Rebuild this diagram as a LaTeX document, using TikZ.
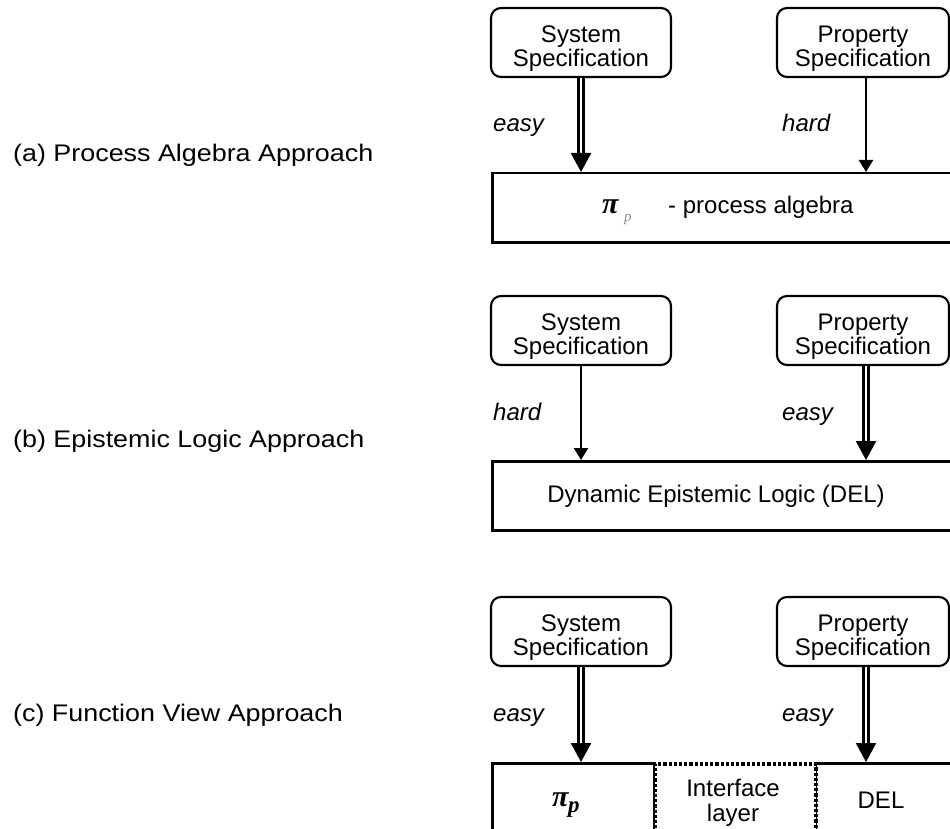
\documentclass[tikz,border=0pt]{standalone}
\usepackage{fontspec}
\setmainfont{Liberation Sans}
\newfontfamily\pifont{Liberation Serif}
\usetikzlibrary{arrows.meta}
\newcommand{\hx}[1]{\scalebox{1.0}[1]{#1}}
\newcommand{\hl}[1]{\scalebox{1.12}[1]{#1}}
\newcommand{\pisym}{{\pifont\itshape\bfseries π}}
\newcommand{\spectext}[2]{\raisebox{-7pt}[\height][\depth]{\begin{tabular}{@{}c@{}}\hx{#1}\\[-2pt]\hx{#2}\end{tabular}}}
\begin{document}
\begin{tikzpicture}[x=1pt,y=-1pt,
  every node/.style={font=\fontsize{24}{26}\selectfont, inner sep=0pt},
  spec/.style={draw, line width=2.1pt, rounded corners=10pt,
    minimum height=69pt},
  base/.style={draw, line width=2.5pt, minimum height=69pt},
  iface/.style={line width=4pt, dash pattern=on 3.2pt off 2pt},
  dbl/.style={double, double distance=2.8pt, line width=2.4pt,
    -{Triangle[length=19pt,width=20pt]}},
  sgl/.style={line width=2.4pt, -{Triangle[length=12pt,width=14pt]}},
  lbl/.style={anchor=base west, font=\fontsize{24}{26}\selectfont\itshape},
  plabel/.style={anchor=base west}]
\useasboundingbox (0,0) rectangle (950,829);
\clip (0,0) rectangle (950,829);

% ---------- (a)
\node[plabel] (la) at (13,162) {\hl{(a) Process Algebra Approach}};
\node[spec, minimum width=180pt] (sysa) at (581,42.5) {\spectext{System}{Specification}};
\node[spec, minimum width=172pt] (propa) at (863,42.5) {\spectext{Property}{Specification}};
\node[base, minimum width=474pt, anchor=north west] (alga) at (491,172) {};
\node[anchor=base west] (pia) at (602,214) {\fontsize{30}{30}\selectfont\pisym};
\node[anchor=base west] (psa) at (624,222) {\fontsize{15}{15}\selectfont\pifont\itshape\color{black!45}p};
\node[anchor=base west] (ta) at (668,214) {\hx{- process algebra}};
\draw[dbl] (sysa.south) -- (sysa.south |- alga.north);
\draw[sgl] ([xshift=3pt]propa.south) -- ([xshift=3pt]propa.south |- alga.north);
\node[lbl] (ea) at (493,132) {\hx{easy}};
\node[lbl] (ha) at (782,132) {\hx{hard}};

% ---------- (b)
\node[plabel] (lb) at (13,447) {\hl{(b) Epistemic Logic Approach}};
\node[spec, minimum width=180pt] (sysb) at (581,330.5) {\spectext{System}{Specification}};
\node[spec, minimum width=172pt] (propb) at (863,330.5) {\spectext{Property}{Specification}};
\node[base, minimum width=474pt, anchor=north west] (delb) at (491,460) {};
\node[anchor=base] (tb) at (716,502) {\hx{Dynamic Epistemic Logic (DEL)}};
\draw[sgl] (sysb.south) -- (sysb.south |- delb.north);
\draw[dbl] ([xshift=3pt]propb.south) -- ([xshift=3pt]propb.south |- delb.north);
\node[lbl] (hb) at (493,420) {\hx{hard}};
\node[lbl] (eb) at (782,420) {\hx{easy}};

% ---------- (c)
\node[plabel] (lc) at (13,721) {\hl{(c) Function View Approach}};
\node[spec, minimum width=180pt] (sysc) at (581,631.5) {\spectext{System}{Specification}};
\node[spec, minimum width=172pt] (propc) at (863,631.5) {\spectext{Property}{Specification}};
\node[base, minimum width=162pt, minimum height=90pt, anchor=north west] (pic) at (491,762) {};
\node[base, minimum width=151pt, minimum height=90pt, anchor=north west] (delc) at (814,762) {};
\node[minimum width=161pt, minimum height=90pt, anchor=north west, fill=white,
  preaction={draw=white, line width=4.5pt}, draw, iface] (ifc) at (653,762) {};
\node[anchor=base west] (tpi) at (552,806) {\fontsize{30}{30}\selectfont\pisym};
\node[anchor=base west] (tps) at (568,812) {\fontsize{23}{23}\selectfont\pifont\itshape\bfseries p};
\node[align=center, font=\fontsize{24}{25}\selectfont] (tif) at (733,803) {\hx{Interface}\\\hx{layer}};
\node[anchor=base] (tdel) at (881,808) {\hx{DEL}};
\draw[dbl] (sysc.south) -- (sysc.south |- pic.north);
\draw[dbl] ([xshift=3pt]propc.south) -- ([xshift=3pt]propc.south |- delc.north);
\node[lbl] (ec) at (493,721) {\hx{easy}};
\node[lbl] (ec2) at (782,721) {\hx{easy}};
\end{tikzpicture}
\end{document}
